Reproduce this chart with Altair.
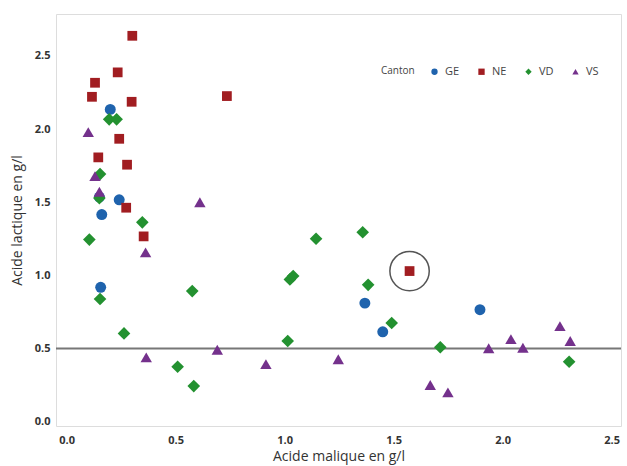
import altair as alt
import pandas as pd

# Data
ge_x = [0.200, 0.150, 0.241, 0.161, 0.156, 1.368, 1.450, 1.896]
ge_y = [2.135, 1.536, 1.517, 1.416, 0.919, 0.811, 0.615, 0.766]

ne_x = [0.301, 0.234, 0.130, 0.116, 0.298, 0.735, 0.241, 0.145, 0.277, 0.273, 0.353, 1.573]
ne_y = [2.638, 2.388, 2.317, 2.221, 2.187, 2.226, 1.934, 1.807, 1.757, 1.463, 1.267, 1.030]

vd_x = [0.195, 0.229, 0.153, 0.150, 0.347, 0.104, 0.153, 0.576, 0.263, 0.509, 0.583,
        1.144, 1.358, 1.024, 1.039, 1.383, 1.491, 1.014, 1.714, 2.305]
vd_y = [2.067, 2.067, 1.693, 1.529, 1.363, 1.245, 0.839, 0.893, 0.604, 0.376, 0.244,
        1.251, 1.295, 0.973, 0.996, 0.936, 0.675, 0.552, 0.509, 0.410]

vs_x = [0.099, 0.130, 0.150, 0.611, 0.362, 0.365, 0.691, 0.914, 1.246, 1.668, 1.749,
        1.936, 2.038, 2.093, 2.263, 2.310]
vs_y = [1.980, 1.679, 1.572, 1.500, 1.158, 0.440, 0.492, 0.394, 0.427, 0.251, 0.201,
        0.502, 0.565, 0.506, 0.654, 0.552]

cantons = ["GE", "NE", "VD", "VS"]
colors = ["#1f63ad", "#a11d21", "#239130", "#74318c"]
shapes = ["circle", "square", "diamond", "triangle-up"]
marker_sizes = [120, 95, 160, 130]

threshold = [0.5]
highlight_x = [1.573]
highlight_y = [1.030]

rows = []
for c, s, xs, ys in zip(cantons, marker_sizes, [ge_x, ne_x, vd_x, vs_x], [ge_y, ne_y, vd_y, vs_y]):
    for a, b in zip(xs, ys):
        rows.append({"Canton": c, "malique": a, "lactique": b, "sz": s})
df = pd.DataFrame(rows)

xscale = alt.Scale(domain=[-0.049, 2.543], nice=False, zero=False)
yscale = alt.Scale(domain=[-0.029, 2.787], nice=False, zero=False)

xaxis = alt.Axis(title="Acide malique en g/l", values=[0, 0.5, 1.0, 1.5, 2.0, 2.5], format=".1f",
                 grid=False, ticks=False, domain=False, labelPadding=8, titlePadding=4,
                 labelFontSize=11, labelFontWeight="bold", labelColor="#333",
                 titleFontSize=14, titleFontWeight="normal", titleColor="#333")
yaxis = alt.Axis(title="Acide lactique en g/l", values=[0, 0.5, 1.0, 1.5, 2.0, 2.5], format=".1f",
                 grid=False, ticks=False, domain=False, labelPadding=6, titlePadding=10,
                 labelFontSize=11, labelFontWeight="bold", labelColor="#333",
                 titleFontSize=14, titleFontWeight="normal", titleColor="#333")

legend = alt.Legend(
    title="Canton", orient="none", legendX=325, legendY=52, direction="horizontal",
    titleOrient="left", titleFontSize=10, titleFontWeight="normal", titleColor="#444",
    labelFontSize=11, labelColor="#444", symbolSize=40, columnPadding=16, titlePadding=14,
    labelOffset=5, titleBaseline="middle"
)

rule = alt.Chart(pd.DataFrame({"y": threshold})).mark_rule(color="#777", strokeWidth=2).encode(
    y=alt.Y("y:Q", scale=yscale, axis=yaxis)
)

points = alt.Chart(df).mark_point(filled=True, opacity=1).encode(
    x=alt.X("malique:Q", scale=xscale, axis=xaxis),
    y=alt.Y("lactique:Q", scale=yscale, axis=yaxis),
    color=alt.Color("Canton:N", scale=alt.Scale(domain=cantons, range=colors), legend=legend),
    shape=alt.Shape("Canton:N", scale=alt.Scale(domain=cantons, range=shapes), legend=legend),
    size=alt.Size("sz:Q", scale=None, legend=None),
)

circ = alt.Chart(pd.DataFrame({"x": highlight_x, "y": highlight_y})).mark_point(
    shape="circle", filled=False, size=1550, stroke="#555", strokeWidth=1.5, opacity=1
).encode(
    x=alt.X("x:Q", scale=xscale),
    y=alt.Y("y:Q", scale=yscale),
)

chart = alt.layer(rule, points, circ).properties(
    width=565, height=412,
    padding={"left": 56, "top": 14, "right": 6, "bottom": 40},
    autosize=alt.AutoSizeParams(type="none"),
).configure_view(
    stroke="#e2e2e2", strokeWidth=1.5
).configure(font="Open Sans")

chart.save("out.html", embed_options={"renderer": "svg", "actions": False})
